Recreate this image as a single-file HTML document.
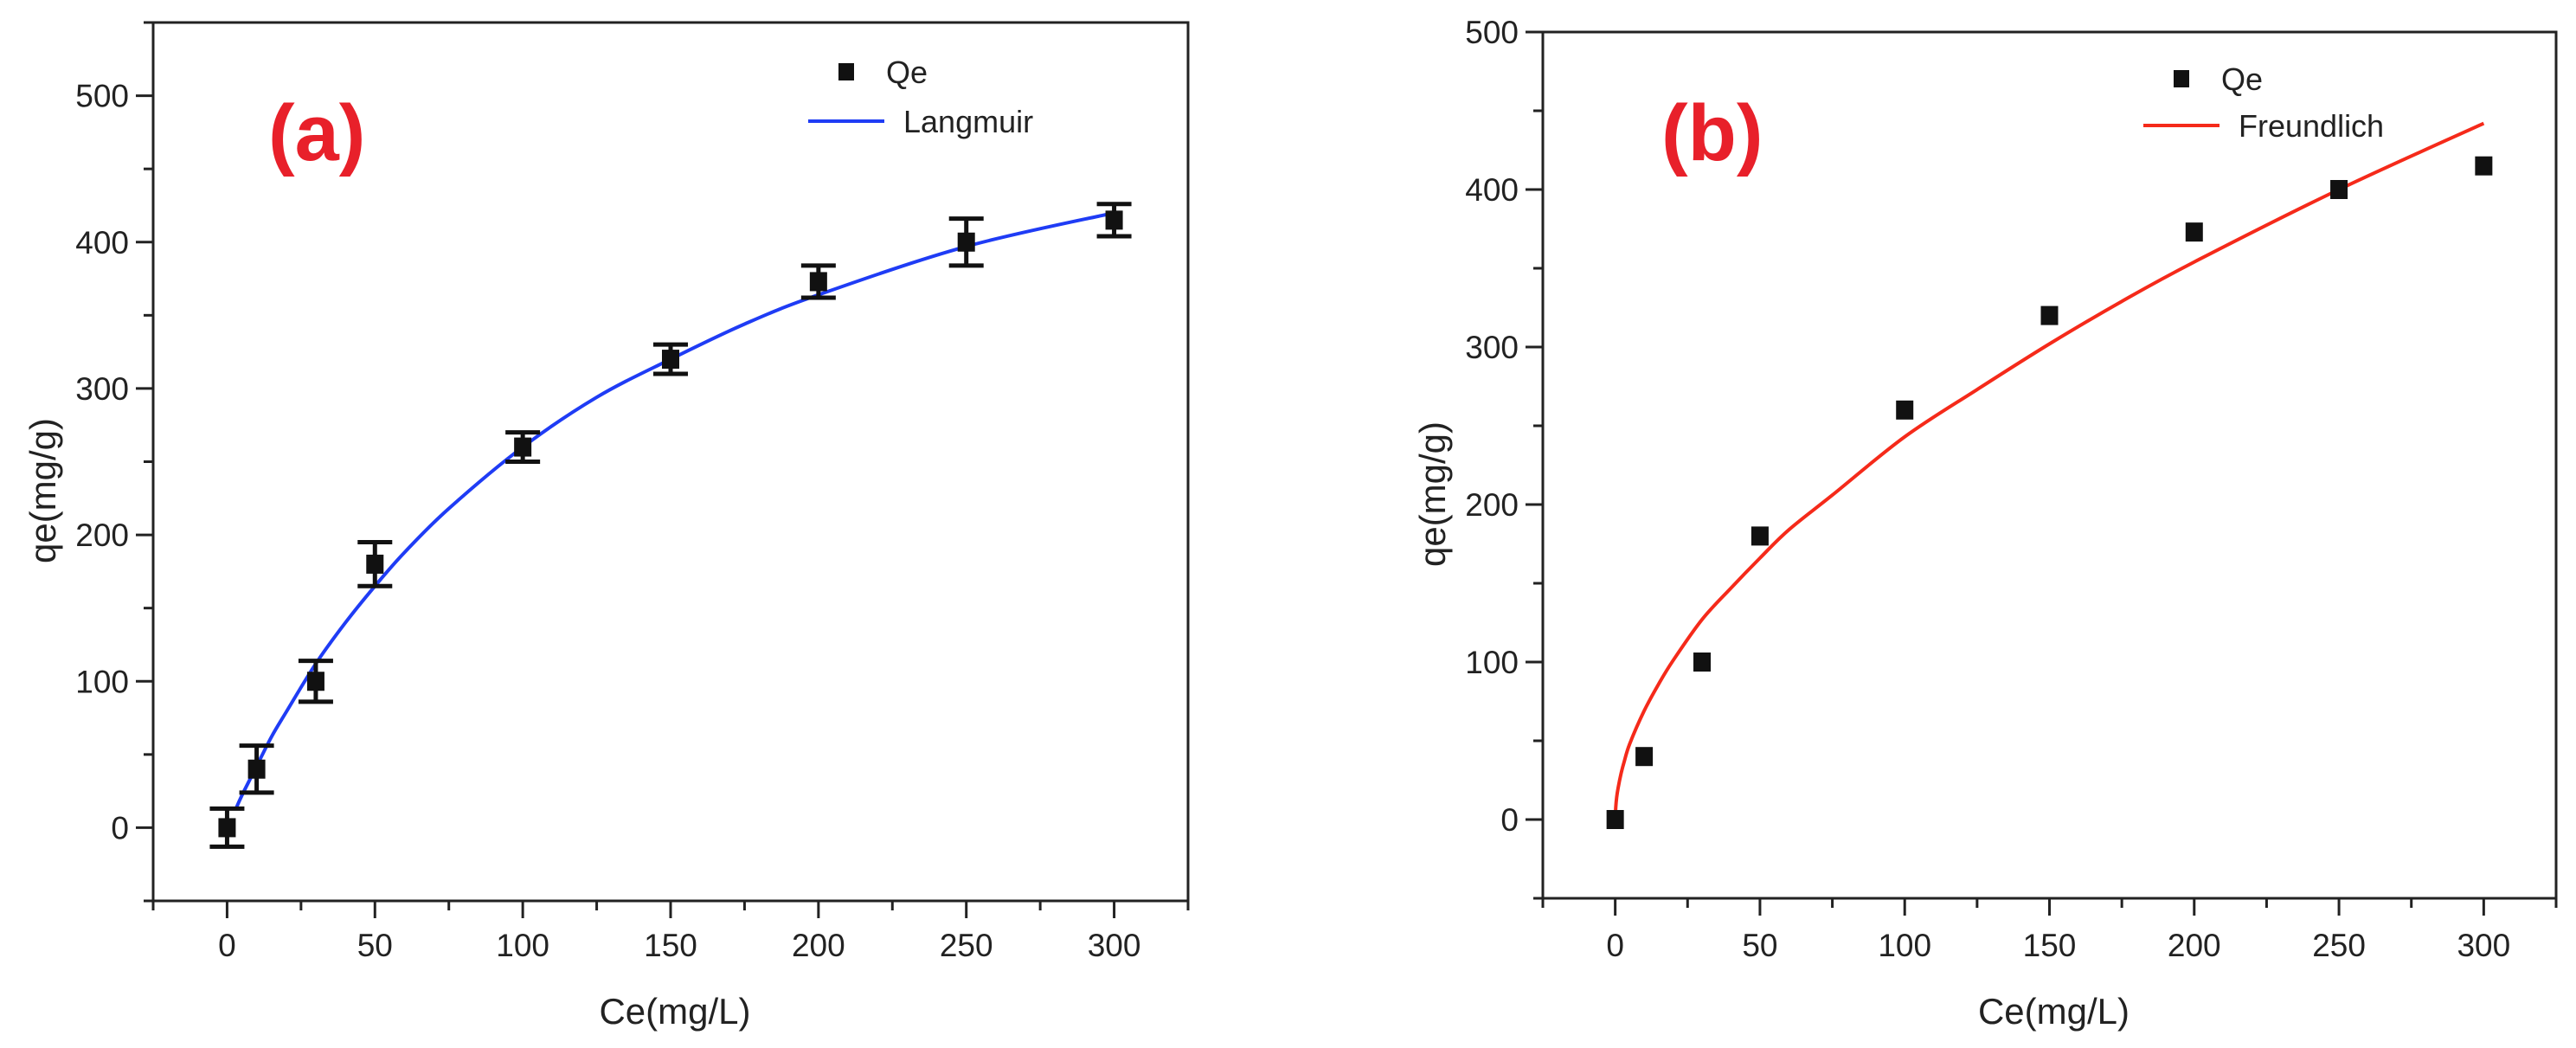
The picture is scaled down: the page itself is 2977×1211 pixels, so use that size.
<!DOCTYPE html>
<html><head><meta charset="utf-8"><style>
html,body{margin:0;padding:0;background:#fff;}
svg{display:block;font-family:"Liberation Sans",Arial,sans-serif;}
</style></head><body>
<svg id="fig" width="2977" height="1211" viewBox="0 0 2977 1211" xmlns="http://www.w3.org/2000/svg"></svg>
<script>
// ---- data ----
const ceValues = [0, 10, 30, 50, 100, 150, 200, 250, 300];
const qeValues = [0, 40, 100, 180, 260, 320, 373, 400, 415];
const qeErrors = [13, 16, 14, 15, 10, 10, 11, 16, 11];
const langmuirX = [3, 5, 10, 15, 20, 30, 40, 50, 60, 75, 100, 125, 150, 175, 200, 250, 300];
const langmuirY = [13, 22, 42, 62, 79, 112, 140, 165, 188, 218, 260, 294, 320, 344, 364, 397, 420];
const freundX = [0, 0.2, 0.5, 1, 2, 3, 5, 10, 15, 20, 30, 40, 50, 60, 75, 100, 125, 150, 175, 200, 250, 300];
const freundY = [0, 8, 14, 20, 29, 36, 48, 69, 86, 101, 127, 147, 166, 184, 206, 243, 273, 302, 329, 354, 400, 442];
const xTicks = [0, 50, 100, 150, 200, 250, 300];
const yTicksA = [0, 100, 200, 300, 400, 500];
const yTicksB = [0, 100, 200, 300, 400, 500];

const NS = "http://www.w3.org/2000/svg";
const svg = document.getElementById('fig');
function mk(tag, attrs, parent) {
  const e = document.createElementNS(NS, tag);
  for (const k in attrs) e.setAttribute(k, attrs[k]);
  (parent || svg).appendChild(e);
  return e;
}
function smoothPath(pts) {
  let d = `M${pts[0][0]},${pts[0][1]}`;
  for (let i = 0; i < pts.length - 1; i++) {
    const p0 = pts[Math.max(0, i - 1)], p1 = pts[i], p2 = pts[i + 1], p3 = pts[Math.min(pts.length - 1, i + 2)];
    const c1x = p1[0] + (p2[0] - p0[0]) / 6, c1y = p1[1] + (p2[1] - p0[1]) / 6;
    const c2x = p2[0] - (p3[0] - p1[0]) / 6, c2y = p2[1] - (p3[1] - p1[1]) / 6;
    d += ` C${c1x},${c1y} ${c2x},${c2y} ${p2[0]},${p2[1]}`;
  }
  return d;
}

function panel(cfg) {
  const g = mk('g', {});
  
  
  const {L, R, T, B, xmin, xmax, ymin, ymax} = cfg;
  const sx = v => L + (v - xmin) / (xmax - xmin) * (R - L);
  const sy = v => B - (v - ymin) / (ymax - ymin) * (B - T);
  const fr = mk('rect', {x: L, y: T, width: R - L, height: B - T, fill: 'none', stroke: '#222', 'stroke-width': 3}, g);
  
  
  for (let v = -25; v <= 325; v += 25) {
    const major = xTicks.includes(v);
    const t = mk('line', {x1: sx(v), x2: sx(v), y1: B, y2: B + (major ? 20 : 11), stroke: '#222', 'stroke-width': 3}, g);
    
    
  }
  xTicks.forEach(v => {
    const t = mk('text', {x: sx(v), y: 1105, 'font-size': 37, 'text-anchor': 'middle', fill: '#222'}, g);
    t.textContent = v;
    
    
  });
  for (let v = -50; v <= ymax; v += 50) {
    const major = cfg.yTicks.includes(v);
    const t = mk('line', {x1: L, x2: L - (major ? 20 : 11), y1: sy(v), y2: sy(v), stroke: '#222', 'stroke-width': 3}, g);
    
    
  }
  cfg.yTicks.forEach(v => {
    const t = mk('text', {x: L - 28, y: sy(v) + 13, 'font-size': 37, 'text-anchor': 'end', fill: '#222'}, g);
    t.textContent = v;
    
    
  });
  const xt = mk('text', {x: (L + R) / 2 + 5, y: 1183, 'font-size': 42, 'text-anchor': 'middle', fill: '#222'}, g);
  xt.textContent = 'Ce(mg/L)';
  
  
  const yt = mk('text', {x: 0, y: 0, 'font-size': 42, 'text-anchor': 'middle', fill: '#222', transform: `translate(${cfg.ytx},${cfg.yty}) rotate(-90)`}, g);
  yt.textContent = 'qe(mg/g)';
  
  
  const fit = mk('path', {d: smoothPath(cfg.fitX.map((x, i) => [sx(x), sy(cfg.fitY[i])])), fill: 'none', stroke: cfg.color, 'stroke-width': 4}, g);
  
  
  ceValues.forEach((c, i) => {
    const x = sx(c), y = sy(qeValues[i]);
    if (cfg.errors) {
      const e = qeErrors[i];
      const eb = mk('path', {d: `M${x},${sy(qeValues[i] + e)}V${sy(qeValues[i] - e)}M${x - 20},${sy(qeValues[i] + e)}H${x + 20}M${x - 20},${sy(qeValues[i] - e)}H${x + 20}`, stroke: '#111', 'stroke-width': 5, fill: 'none'}, g);
      
      
    }
    const m = mk('rect', {x: x - 10, y: y - 11, width: 20, height: 22, fill: '#111'}, g);
    
    
  });
  const lb = mk('text', {x: cfg.labX, y: 185, 'font-size': 92, 'font-weight': 'bold', fill: '#e8202a'}, g);
  lb.textContent = cfg.label;
  
  
  const lg = mk('g', {}, g);
  
  
  const lm = mk('rect', {x: cfg.legX - 9, y: cfg.legY1 - 10, width: 18, height: 20, fill: '#111'}, lg);
  
  
  const l1 = mk('text', {x: cfg.legX + 46, y: cfg.legY1 + 13, 'font-size': 36, fill: '#222'}, lg);
  l1.textContent = 'Qe';
  
  
  const ll = mk('line', {x1: cfg.legX - 44, x2: cfg.legX + 44, y1: cfg.legY2, y2: cfg.legY2, stroke: cfg.color, 'stroke-width': 4}, lg);
  
  
  const l2 = mk('text', {x: cfg.legX + 66, y: cfg.legY2 + 13, 'font-size': 36, fill: '#222'}, lg);
  l2.textContent = cfg.fitLabel;
  
  
}

panel({name: 'panel-a-langmuir', L: 177, R: 1373, T: 26, B: 1041, xmin: -25, xmax: 325, ymin: -50, ymax: 550,
  yTicks: yTicksA, ytx: 64, yty: 567, fitX: langmuirX, fitY: langmuirY, color: '#1f3cf5', fitName: 'langmuir',
  errors: true, label: '(a)', labX: 310, legX: 978, legY1: 83, legY2: 140, fitLabel: 'Langmuir'});
panel({name: 'panel-b-freundlich', L: 1783, R: 2954, T: 37, B: 1038, xmin: -25, xmax: 325, ymin: -50, ymax: 500,
  yTicks: yTicksB, ytx: 1670, yty: 571, fitX: freundX, fitY: freundY, color: '#f52a1a', fitName: 'freundlich',
  errors: false, label: '(b)', labX: 1920, legX: 2521, legY1: 91, legY2: 145, fitLabel: 'Freundlich'});
</script>
</body></html>
